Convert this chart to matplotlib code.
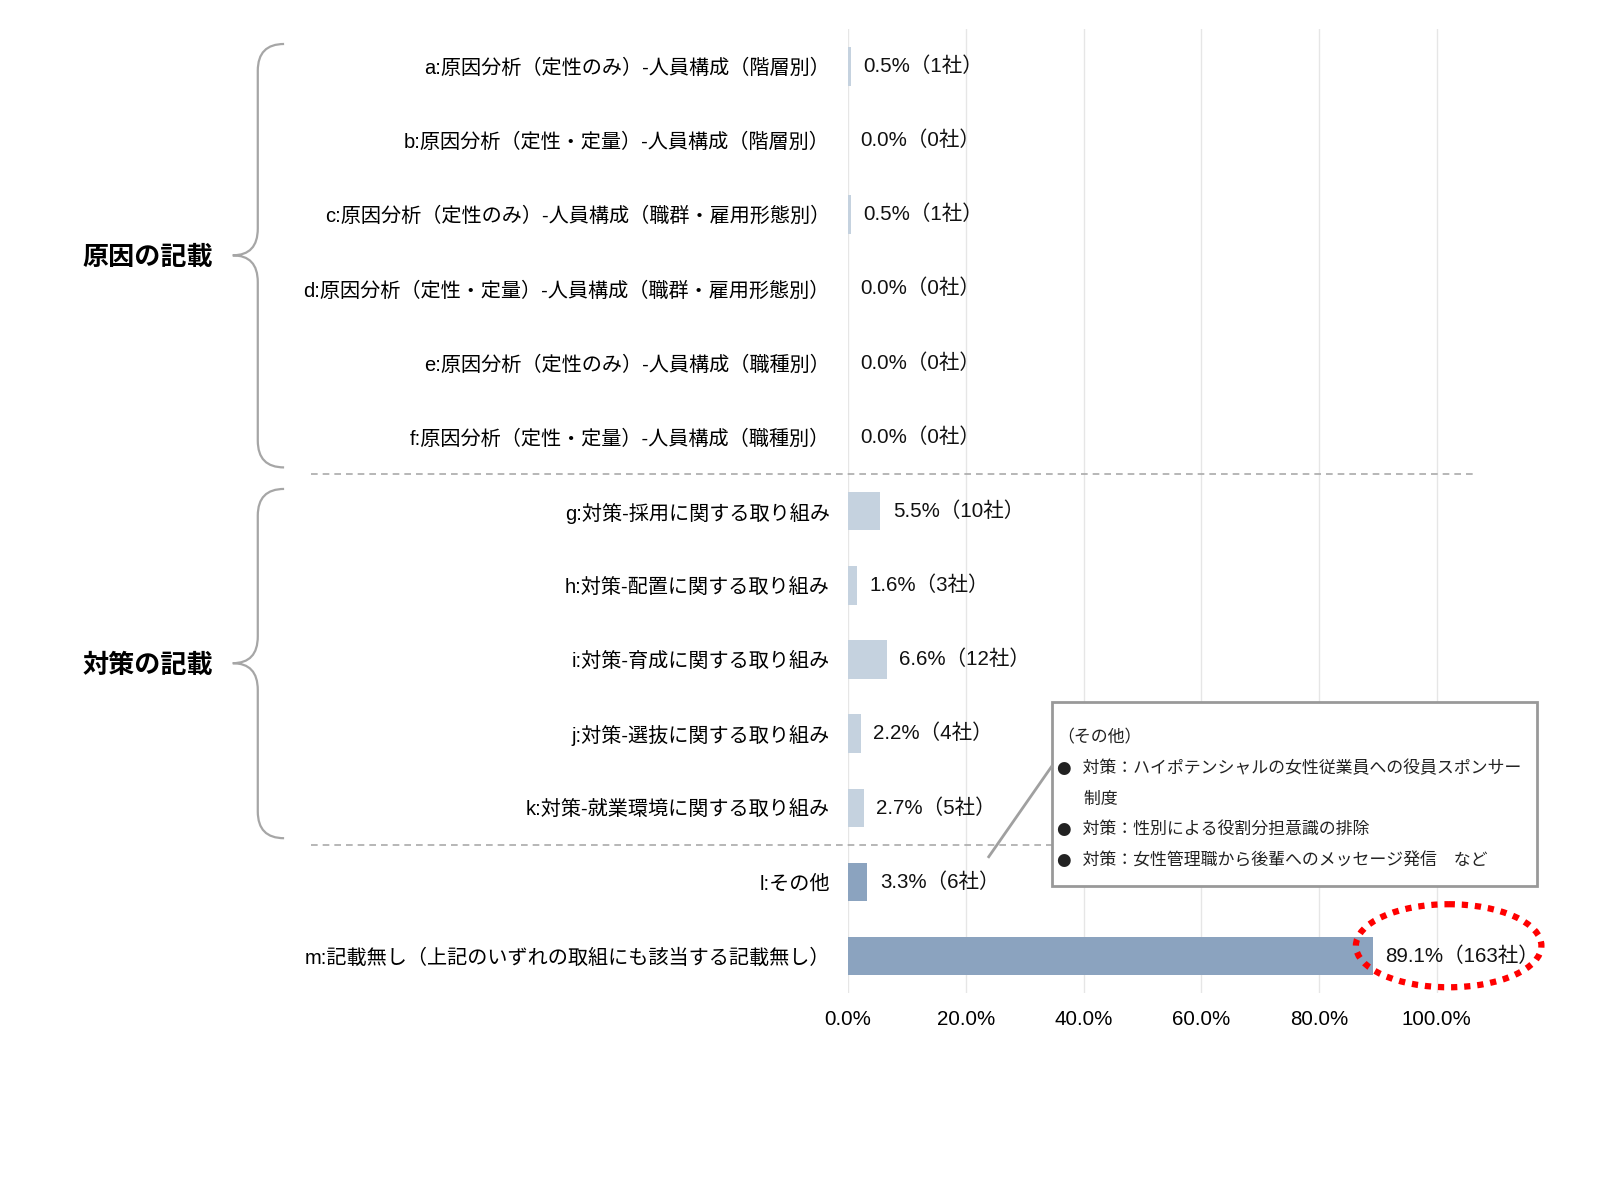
import numpy as np
import matplotlib
matplotlib.use("Agg")
import matplotlib.pyplot as plt
from matplotlib.path import Path
from matplotlib.patches import PathPatch, Ellipse, Rectangle

plt.rcParams["font.family"] = ["Liberation Sans", "Noto Sans CJK JP", "DejaVu Sans"]

# data
labels = [
    "a:原因分析（定性のみ）-人員構成（階層別）",
    "b:原因分析（定性・定量）-人員構成（階層別）",
    "c:原因分析（定性のみ）-人員構成（職群・雇用形態別）",
    "d:原因分析（定性・定量）-人員構成（職群・雇用形態別）",
    "e:原因分析（定性のみ）-人員構成（職種別）",
    "f:原因分析（定性・定量）-人員構成（職種別）",
    "g:対策-採用に関する取り組み",
    "h:対策-配置に関する取り組み",
    "i:対策-育成に関する取り組み",
    "j:対策-選抜に関する取り組み",
    "k:対策-就業環境に関する取り組み",
    "l:その他",
    "m:記載無し（上記のいずれの取組にも該当する記載無し）",
]
pct = [0.5, 0.0, 0.5, 0.0, 0.0, 0.0, 5.5, 1.6, 6.6, 2.2, 2.7, 3.3, 89.1]
companies = [1, 0, 1, 0, 0, 0, 10, 3, 12, 4, 5, 6, 163]
groups = ["原因の記載", "対策の記載"]
group_rows = [(0, 5), (6, 10)]
xticks = [0, 20, 40, 60, 80, 100]
note_lines = [
    "（その他）",
    "●  対策：ハイポテンシャルの女性従業員への役員スポンサー",
    "     制度",
    "●  対策：性別による役割分担意識の排除",
    "●  対策：女性管理職から後輩へのメッセージ発信　など",
]

light = "#c5d2df"
dark = "#8ba3bf"
colors = [light] * 11 + [dark, dark]

fig = plt.figure(figsize=(16, 11.8), dpi=100)
ax = fig.add_axes([0.53, 0.1583, 0.3916, 0.817])

y = np.arange(len(labels))
ax.barh(y, pct, height=0.52, color=colors, zorder=3)
ax.set_ylim(len(labels) - 0.5, -0.5)
ax.set_xlim(0, 106.4)

ax.set_yticks(y)
ax.set_yticklabels(labels, fontsize=14.5)
ax.set_xticks(xticks)
ax.set_xticklabels([f"{t:.1f}%" for t in xticks], fontsize=14.8)
ax.tick_params(axis="y", length=0, pad=13)
ax.tick_params(axis="x", length=0, pad=12)
for s in ax.spines.values():
    s.set_visible(False)
ax.grid(axis="x", color="#e6e6e6", lw=1, zorder=0)
ax.set_axisbelow(True)

# value labels
for yi, v, n in zip(y, pct, companies):
    ax.annotate(f"{v:.1f}%（{n}社）", xy=(v, yi), xytext=(9, 0),
                textcoords="offset points", va="center", ha="left",
                fontsize=14.8, color="#111111")

# separators
tr = ax.get_yaxis_transform()
for (a, b) in group_rows:
    ax.plot([-0.857, 1.0], [b + 0.5, b + 0.5], transform=tr, color="#aaaaaa",
            lw=1.2, ls=(0, (4, 3)), clip_on=False)


def brace(top, bot, tip, xl=-0.942, xe=-0.9, xt=-0.982, r=0.36):
    verts = [(xe, top), (xl, top), (xl, top + r),
             (xl, tip - r), (xl, tip), (xt, tip),
             (xl, tip), (xl, tip + r),
             (xl, bot - r), (xl, bot), (xe, bot)]
    codes = [Path.MOVETO, Path.CURVE3, Path.CURVE3,
             Path.LINETO, Path.CURVE3, Path.CURVE3,
             Path.CURVE3, Path.CURVE3,
             Path.LINETO, Path.CURVE3, Path.CURVE3]
    ax.add_patch(PathPatch(Path(verts, codes), transform=tr, fc="none",
                           ec="#a6a6a6", lw=1.6, clip_on=False))


for name, (a, b) in zip(groups, group_rows):
    top = a - 0.3
    bot = b + 0.41
    tip = (a + b) / 2 + 0.05
    brace(top, bot, tip)
    ax.text(-1.117, tip + 0.04, name, transform=tr, ha="center", va="center",
            fontsize=18.8, fontweight="bold")

# note box for "l:その他"
box_l, box_r, box_t, box_b = 34.6, 117.0, 8.57, 11.05
ax.add_patch(Rectangle((box_l, box_t), box_r - box_l, box_b - box_t, fc="white",
                       ec="#999999", lw=2, clip_on=False, zorder=5))
ax.plot([23.9, box_l], [10.66, 9.44], color="#a0a0a0", lw=2, clip_on=False, zorder=5)
ax.text(box_l + 0.9, 8.93, "\n".join(note_lines), ha="left", va="top",
        fontsize=12.2, family=["DejaVu Sans", "Noto Sans CJK JP"],
        linespacing=1.9, color="#222222", zorder=6)

# red dotted ellipse around m
ax.add_patch(Ellipse((pct[-1] + 12.9, 11.86), 31.5, 1.12, fill=False,
                     ec="#ff0000", lw=4.5, ls=(0, (1, 1.1)), clip_on=False, zorder=6))

fig.savefig("out.png", dpi=100)
